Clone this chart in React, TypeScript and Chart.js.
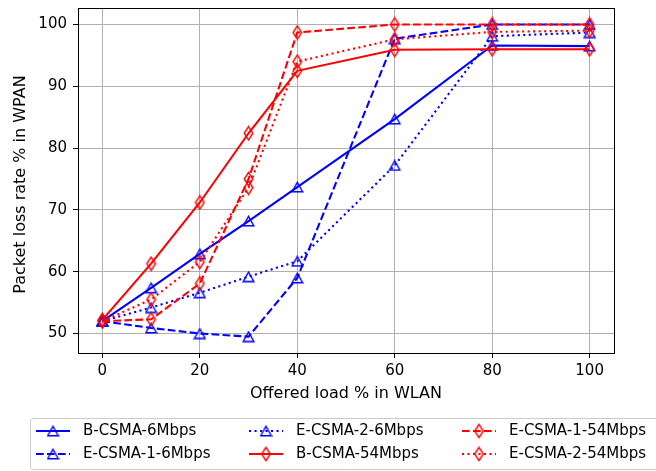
import React, { useEffect, useRef } from 'react';
import { Chart, registerables } from 'chart.js';

Chart.register(...registerables);

const xLoads = [0, 10, 20, 30, 40, 60, 80, 100];
const xTicks = [0, 20, 40, 60, 80, 100];
const yTicks = [50, 60, 70, 80, 90, 100];

const bCsma6 = [52.0, 57.4, 62.9, 68.2, 73.7, 84.7, 96.6, 96.5];
const eCsma1_6 = [52.0, 50.9, 50.0, 49.5, 59.0, 97.7, 100.0, 100.0];
const eCsma2_6 = [52.0, 54.2, 56.6, 59.2, 61.7, 77.2, 98.1, 98.7];
const bCsma54 = [52.2, 61.3, 71.2, 82.4, 92.5, 95.9, 96.0, 96.0];
const eCsma1_54 = [52.0, 52.3, 58.1, 75.0, 98.7, 100.0, 100.0, 100.0];
const eCsma2_54 = [52.0, 55.5, 61.6, 73.6, 94.0, 97.6, 98.8, 99.0];

const seriesNames = [
  'B-CSMA-6Mbps',
  'E-CSMA-1-6Mbps',
  'E-CSMA-2-6Mbps',
  'B-CSMA-54Mbps',
  'E-CSMA-1-54Mbps',
  'E-CSMA-2-54Mbps',
];
const seriesValues = [bCsma6, eCsma1_6, eCsma2_6, bCsma54, eCsma1_54, eCsma2_54];
const seriesColors = ['#0000ff', '#0000ff', '#0000ff', '#ff0000', '#ff0000', '#ff0000'];
const seriesKinds = ['solid', 'dashed', 'dotted', 'solid', 'dashed', 'dotted'];
const seriesMarkers = ['tri', 'tri', 'tri', 'dia', 'dia', 'dia'];

const TICK_FONT = { family: 'DejaVu Sans', size: 15 };
const LABEL_FONT = '16px "DejaVu Sans"';
const LEGEND_FONT = '15px "DejaVu Sans"';
const DASHES: Record<string, number[]> = { solid: [], dashed: [7.7, 3.3], dotted: [2.1, 3.4] };

function makeMarker(kind: string, color: string): HTMLCanvasElement {
  const c = document.createElement('canvas');
  const ctx = c.getContext('2d')!;
  if (kind === 'tri') {
    c.width = 13; c.height = 12;
    ctx.strokeStyle = color; ctx.lineWidth = 1.4; ctx.lineJoin = 'miter';
    ctx.beginPath();
    ctx.moveTo(6.5, 1.3); ctx.lineTo(11.8, 10.7); ctx.lineTo(1.2, 10.7); ctx.closePath();
    ctx.stroke();
  } else {
    c.width = 11; c.height = 16;
    ctx.strokeStyle = color; ctx.lineWidth = 1.4;
    ctx.beginPath();
    ctx.moveTo(5.5, 1.3); ctx.lineTo(9.8, 8); ctx.lineTo(5.5, 14.7); ctx.lineTo(1.2, 8); ctx.closePath();
    ctx.stroke();
  }
  return c;
}

export default function App() {
  const ref = useRef<HTMLCanvasElement | null>(null);

  useEffect(() => {
    const canvas = ref.current!;
    const markers = seriesMarkers.map((m, i) => makeMarker(m, seriesColors[i]));

    const frame = {
      id: 'frameAndLegend',
      afterDatasetsDraw(chart: any) {
        const { ctx, chartArea: a } = chart;
        ctx.save();
        ctx.strokeStyle = '#000';
        ctx.lineWidth = 1;
        ctx.strokeRect(Math.round(a.left) + 0.5, Math.round(a.top) + 0.5, Math.round(a.right - a.left), Math.round(a.bottom - a.top));
        ctx.restore();
      },
      afterDraw(chart: any) {
        const { ctx, chartArea: a } = chart;
        ctx.save();
        ctx.fillStyle = '#000';
        ctx.font = LABEL_FONT;
        ctx.textAlign = 'center';
        ctx.textBaseline = 'middle';
        ctx.fillText('Offered load % in WLAN', (a.left + a.right) / 2, 394);
        ctx.save();
        ctx.translate(21, (a.top + a.bottom) / 2 + 4);
        ctx.rotate(-Math.PI / 2);
        ctx.fillText('Packet loss rate % in WPAN', 0, 0);
        ctx.restore();

        // legend box
        const bx = 30.5, by = 418.5, bw = 680, bh = 51, r = 3;
        ctx.beginPath();
        ctx.moveTo(bx + r, by);
        ctx.lineTo(bx + bw - r, by);
        ctx.arcTo(bx + bw, by, bx + bw, by + r, r);
        ctx.lineTo(bx + bw, by + bh - r);
        ctx.arcTo(bx + bw, by + bh, bx + bw - r, by + bh, r);
        ctx.lineTo(bx + r, by + bh);
        ctx.arcTo(bx, by + bh, bx, by + bh - r, r);
        ctx.lineTo(bx, by + r);
        ctx.arcTo(bx, by, bx + r, by, r);
        ctx.closePath();
        ctx.fillStyle = 'rgba(255,255,255,0.8)';
        ctx.fill();
        ctx.strokeStyle = '#cccccc';
        ctx.lineWidth = 1;
        ctx.stroke();

        const colX = [36, 249, 462];
        const rowY = [431, 454];
        seriesNames.forEach((name, i) => {
          const col = Math.floor(i / 2);
          const row = i % 2;
          const x0 = colX[col];
          const y = rowY[row];
          ctx.save();
          ctx.strokeStyle = seriesColors[i];
          ctx.lineWidth = 2.1;
          ctx.setLineDash(DASHES[seriesKinds[i]]);
          ctx.beginPath();
          ctx.moveTo(x0, y);
          ctx.lineTo(x0 + 34, y);
          ctx.stroke();
          ctx.restore();
          const mk = markers[i];
          ctx.drawImage(mk, x0 + 17 - mk.width / 2, y - mk.height / 2);
          ctx.fillStyle = '#000';
          ctx.font = LEGEND_FONT;
          ctx.textAlign = 'left';
          ctx.textBaseline = 'middle';
          ctx.fillText(name, x0 + 47, y + 0.5);
        });
        ctx.restore();
      },
    };

    const chart = new Chart(canvas, {
      type: 'line',
      data: {
        datasets: seriesNames.map((name, i) => ({
          label: name,
          data: xLoads.map((x, j) => ({ x, y: seriesValues[i][j] })),
          borderColor: seriesColors[i],
          backgroundColor: 'transparent',
          borderWidth: 2.1,
          borderDash: DASHES[seriesKinds[i]],
          pointStyle: markers[i],
          pointRadius: 6,
          pointHoverRadius: 6,
          tension: 0,
          fill: false,
          order: 5 - i,
        })),
      },
      options: {
        animation: false,
        responsive: false,
        maintainAspectRatio: false,
        events: [],
        layout: { padding: { left: 0, right: 42, top: 5, bottom: 70 } },
        plugins: { legend: { display: false }, tooltip: { enabled: false }, title: { display: false } },
        scales: {
          x: {
            type: 'linear',
            min: -5,
            max: 105,
            afterBuildTicks: (s: any) => { s.ticks = xTicks.map((v) => ({ value: v })); },
            afterFit: (s: any) => { s.height = 48; s.paddingLeft = 0; s.paddingRight = 0; },
            ticks: { font: TICK_FONT, color: '#000', padding: 4, maxRotation: 0, autoSkip: false },
            grid: { color: '#b0b0b0', lineWidth: 1, tickColor: '#000', tickLength: 5, drawTicks: true },
            border: { display: false },
          },
          y: {
            type: 'linear',
            min: 46.85,
            max: 102.65,
            afterBuildTicks: (s: any) => { s.ticks = yTicks.map((v) => ({ value: v })); },
            afterFit: (s: any) => { s.width = 78; s.paddingTop = 0; s.paddingBottom = 0; },
            ticks: { font: TICK_FONT, color: '#000', padding: 6, autoSkip: false },
            grid: { color: '#b0b0b0', lineWidth: 1, tickColor: '#000', tickLength: 5, drawTicks: true },
            border: { display: false },
          },
        },
      },
      plugins: [frame],
    } as any);

    return () => chart.destroy();
  }, []);

  return (
    <div style={{ position: 'fixed', left: 0, top: 0, width: 656, height: 471, background: '#fff' }}>
      <canvas ref={ref} width={656} height={471} style={{ display: 'block', width: 656, height: 471 }} />
    </div>
  );
}
